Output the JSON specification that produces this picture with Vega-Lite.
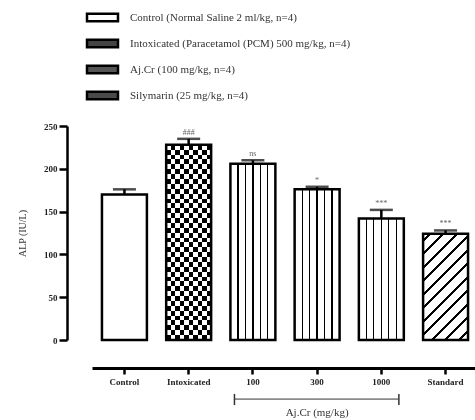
{
  "$schema": "https://vega.github.io/schema/vega-lite/v6.json",
  "autosize": "none",
  "padding": {"left": 92, "top": 126, "right": 0, "bottom": 80},
  "width": 386,
  "height": 214,
  "background": "white",
  "config": {"view": {"stroke": null}},
  "data": {"values": [
    {"group": "Control", "val": 170, "hi": 176, "sig": "", "leg": "Control (Normal Saline 2 ml/kg, n=4)"},
    {"group": "Intoxicated", "val": 228, "hi": 235, "sig": "###", "leg": "Intoxicated (Paracetamol (PCM) 500 mg/kg, n=4)"},
    {"group": "100", "val": 206, "hi": 210, "sig": "ns", "leg": "Aj.Cr (100 mg/kg, n=4)"},
    {"group": "300", "val": 176, "hi": 179, "sig": "*", "leg": "Aj.Cr (100 mg/kg, n=4)"},
    {"group": "1000", "val": 142, "hi": 152, "sig": "***", "leg": "Aj.Cr (100 mg/kg, n=4)"},
    {"group": "Standard", "val": 124, "hi": 128, "sig": "***", "leg": "Silymarin (25 mg/kg, n=4)"}
  ]},
  "encoding": {
    "x": {"field": "group", "type": "nominal",
      "scale": {"domain": ["Control", "Intoxicated", "100", "300", "1000", "Standard"], "paddingInner": 0.3, "paddingOuter": 0.155},
      "axis": {"title": null, "orient": "bottom", "offset": 28, "labelAngle": 0, "domainColor": "black", "domainWidth": 3,
        "tickColor": "black", "tickWidth": 2.5, "tickSize": 6, "labelFont": "Liberation Serif", "labelFontWeight": "bold",
        "labelFontSize": 9, "labelColor": "#222", "labelPadding": 3}},
    "y": {"field": "val", "type": "quantitative", "scale": {"domain": [0, 250], "nice": false},
      "axis": {"title": "ALP (IU/L)", "offset": 25, "values": [0, 50, 100, 150, 200, 250], "grid": false,
        "domainColor": "black", "domainWidth": 2.5, "tickColor": "black", "tickWidth": 2.5, "tickSize": 8,
        "labelFont": "Liberation Serif", "labelFontWeight": "bold", "labelFontSize": 9, "labelColor": "#222", "labelPadding": 2,
        "titleFont": "Liberation Serif", "titleFontWeight": "normal", "titleFontSize": 10, "titleColor": "#333", "titlePadding": 16}}
  },
  "layer": [
    {
      "mark": {"type": "bar"},
      "encoding": {
        "fill": {"field": "leg", "type": "nominal",
          "scale": {"domain": ["Control (Normal Saline 2 ml/kg, n=4)", "Intoxicated (Paracetamol (PCM) 500 mg/kg, n=4)", "Aj.Cr (100 mg/kg, n=4)", "Silymarin (25 mg/kg, n=4)"],
            "range": ["white", "#444444", "#555555", "#4a4a4a"]},
          "legend": {"title": null, "orient": "none", "legendX": 5, "legendY": -114, "padding": 0,
            "symbolType": "M-4,-1H4V1H-4Z", "symbolSize": 60, "symbolStrokeColor": "black", "symbolStrokeWidth": 2.5,
            "labelFont": "Liberation Serif", "labelFontSize": 11, "labelColor": "#333", "labelOffset": 22, "rowPadding": 7, "labelLimit": 400}}
      }
    },
    {
      "transform": [{"filter": "datum.group === 'Intoxicated'"}],
      "mark": {"type": "bar", "fill": {"gradient": "linear", "x1": 0, "y1": 0, "x2": 0, "y2": 1, "stops": [
        {"offset": 0, "color": "black"}, {"offset": 0.025, "color": "black"},
        {"offset": 0.025, "color": "white"}, {"offset": 0.05, "color": "white"},
        {"offset": 0.05, "color": "black"}, {"offset": 0.075, "color": "black"},
        {"offset": 0.075, "color": "white"}, {"offset": 0.1, "color": "white"},
        {"offset": 0.1, "color": "black"}, {"offset": 0.125, "color": "black"},
        {"offset": 0.125, "color": "white"}, {"offset": 0.15, "color": "white"},
        {"offset": 0.15, "color": "black"}, {"offset": 0.175, "color": "black"},
        {"offset": 0.175, "color": "white"}, {"offset": 0.2, "color": "white"},
        {"offset": 0.2, "color": "black"}, {"offset": 0.225, "color": "black"},
        {"offset": 0.225, "color": "white"}, {"offset": 0.25, "color": "white"},
        {"offset": 0.25, "color": "black"}, {"offset": 0.275, "color": "black"},
        {"offset": 0.275, "color": "white"}, {"offset": 0.3, "color": "white"},
        {"offset": 0.3, "color": "black"}, {"offset": 0.325, "color": "black"},
        {"offset": 0.325, "color": "white"}, {"offset": 0.35, "color": "white"},
        {"offset": 0.35, "color": "black"}, {"offset": 0.375, "color": "black"},
        {"offset": 0.375, "color": "white"}, {"offset": 0.4, "color": "white"},
        {"offset": 0.4, "color": "black"}, {"offset": 0.425, "color": "black"},
        {"offset": 0.425, "color": "white"}, {"offset": 0.45, "color": "white"},
        {"offset": 0.45, "color": "black"}, {"offset": 0.475, "color": "black"},
        {"offset": 0.475, "color": "white"}, {"offset": 0.5, "color": "white"},
        {"offset": 0.5, "color": "black"}, {"offset": 0.525, "color": "black"},
        {"offset": 0.525, "color": "white"}, {"offset": 0.55, "color": "white"},
        {"offset": 0.55, "color": "black"}, {"offset": 0.575, "color": "black"},
        {"offset": 0.575, "color": "white"}, {"offset": 0.6, "color": "white"},
        {"offset": 0.6, "color": "black"}, {"offset": 0.625, "color": "black"},
        {"offset": 0.625, "color": "white"}, {"offset": 0.65, "color": "white"},
        {"offset": 0.65, "color": "black"}, {"offset": 0.675, "color": "black"},
        {"offset": 0.675, "color": "white"}, {"offset": 0.7, "color": "white"},
        {"offset": 0.7, "color": "black"}, {"offset": 0.725, "color": "black"},
        {"offset": 0.725, "color": "white"}, {"offset": 0.75, "color": "white"},
        {"offset": 0.75, "color": "black"}, {"offset": 0.775, "color": "black"},
        {"offset": 0.775, "color": "white"}, {"offset": 0.8, "color": "white"},
        {"offset": 0.8, "color": "black"}, {"offset": 0.825, "color": "black"},
        {"offset": 0.825, "color": "white"}, {"offset": 0.85, "color": "white"},
        {"offset": 0.85, "color": "black"}, {"offset": 0.875, "color": "black"},
        {"offset": 0.875, "color": "white"}, {"offset": 0.9, "color": "white"},
        {"offset": 0.9, "color": "black"}, {"offset": 0.925, "color": "black"},
        {"offset": 0.925, "color": "white"}, {"offset": 0.95, "color": "white"},
        {"offset": 0.95, "color": "black"}, {"offset": 0.975, "color": "black"},
        {"offset": 0.975, "color": "white"}, {"offset": 1, "color": "white"}
      ]}}
    },
    {
      "transform": [{"filter": "datum.group === 'Intoxicated'"}],
      "mark": {"type": "bar", "blend": "difference", "fill": {"gradient": "linear", "x1": 0, "y1": 0, "x2": 1, "y2": 0, "stops": [
        {"offset": 0, "color": "white"}, {"offset": 0.1, "color": "white"},
        {"offset": 0.1, "color": "black"}, {"offset": 0.2, "color": "black"},
        {"offset": 0.2, "color": "white"}, {"offset": 0.3, "color": "white"},
        {"offset": 0.3, "color": "black"}, {"offset": 0.4, "color": "black"},
        {"offset": 0.4, "color": "white"}, {"offset": 0.5, "color": "white"},
        {"offset": 0.5, "color": "black"}, {"offset": 0.6, "color": "black"},
        {"offset": 0.6, "color": "white"}, {"offset": 0.7, "color": "white"},
        {"offset": 0.7, "color": "black"}, {"offset": 0.8, "color": "black"},
        {"offset": 0.8, "color": "white"}, {"offset": 0.9, "color": "white"},
        {"offset": 0.9, "color": "black"}, {"offset": 1, "color": "black"}
      ]}}
    },
    {
      "transform": [{"filter": "datum.group === '100' || datum.group === '300' || datum.group === '1000'"}],
      "mark": {"type": "bar", "fill": {"gradient": "linear", "x1": 0, "y1": 0, "x2": 1, "y2": 0, "stops": [
        {"offset": 0, "color": "white"}, {"offset": 0.153, "color": "white"},
        {"offset": 0.153, "color": "black"}, {"offset": 0.181, "color": "black"},
        {"offset": 0.181, "color": "white"}, {"offset": 0.319, "color": "white"},
        {"offset": 0.319, "color": "black"}, {"offset": 0.347, "color": "black"},
        {"offset": 0.347, "color": "white"}, {"offset": 0.486, "color": "white"},
        {"offset": 0.486, "color": "black"}, {"offset": 0.514, "color": "black"},
        {"offset": 0.514, "color": "white"}, {"offset": 0.653, "color": "white"},
        {"offset": 0.653, "color": "black"}, {"offset": 0.681, "color": "black"},
        {"offset": 0.681, "color": "white"}, {"offset": 0.819, "color": "white"},
        {"offset": 0.819, "color": "black"}, {"offset": 0.847, "color": "black"},
        {"offset": 0.847, "color": "white"}, {"offset": 1, "color": "white"}
      ]}}
    },
    {
      "transform": [{"filter": "datum.group === 'Standard'"}],
      "mark": {"type": "bar", "fill": {"gradient": "linear", "x1": 0, "y1": 0, "x2": 0.51, "y2": 1.2, "stops": [
        {"offset": 0, "color": "white"}, {"offset": 0.035, "color": "white"},
        {"offset": 0.035, "color": "black"}, {"offset": 0.055, "color": "black"},
        {"offset": 0.055, "color": "white"}, {"offset": 0.125, "color": "white"},
        {"offset": 0.125, "color": "black"}, {"offset": 0.145, "color": "black"},
        {"offset": 0.145, "color": "white"}, {"offset": 0.215, "color": "white"},
        {"offset": 0.215, "color": "black"}, {"offset": 0.235, "color": "black"},
        {"offset": 0.235, "color": "white"}, {"offset": 0.305, "color": "white"},
        {"offset": 0.305, "color": "black"}, {"offset": 0.325, "color": "black"},
        {"offset": 0.325, "color": "white"}, {"offset": 0.395, "color": "white"},
        {"offset": 0.395, "color": "black"}, {"offset": 0.415, "color": "black"},
        {"offset": 0.415, "color": "white"}, {"offset": 0.485, "color": "white"},
        {"offset": 0.485, "color": "black"}, {"offset": 0.505, "color": "black"},
        {"offset": 0.505, "color": "white"}, {"offset": 0.575, "color": "white"},
        {"offset": 0.575, "color": "black"}, {"offset": 0.595, "color": "black"},
        {"offset": 0.595, "color": "white"}, {"offset": 0.665, "color": "white"},
        {"offset": 0.665, "color": "black"}, {"offset": 0.685, "color": "black"},
        {"offset": 0.685, "color": "white"}, {"offset": 0.755, "color": "white"},
        {"offset": 0.755, "color": "black"}, {"offset": 0.775, "color": "black"},
        {"offset": 0.775, "color": "white"}, {"offset": 0.845, "color": "white"},
        {"offset": 0.845, "color": "black"}, {"offset": 0.865, "color": "black"},
        {"offset": 0.865, "color": "white"}, {"offset": 0.935, "color": "white"},
        {"offset": 0.935, "color": "black"}, {"offset": 0.955, "color": "black"},
        {"offset": 0.955, "color": "white"}, {"offset": 1, "color": "white"}
      ]}}
    },
    {
      "mark": {"type": "bar", "fill": "transparent", "stroke": "black", "strokeWidth": 2.5}
    },
    {
      "mark": {"type": "rule", "color": "black", "strokeWidth": 2.5},
      "encoding": {"y2": {"field": "hi"}}
    },
    {
      "mark": {"type": "tick", "color": "black", "size": 23, "thickness": 2.5, "orient": "horizontal"},
      "encoding": {"y": {"field": "hi", "type": "quantitative"}}
    },
    {
      "mark": {"type": "text", "font": "Liberation Serif", "fontSize": 8, "color": "#666", "baseline": "bottom", "dy": -2},
      "encoding": {"y": {"field": "hi", "type": "quantitative"}, "text": {"field": "sig"}}
    },
    {
      "transform": [{"filter": "datum.group === '300'"}],
      "mark": {"type": "rule", "color": "#333", "strokeWidth": 1},
      "encoding": {"x": {"datum": "100", "bandPosition": 0.09}, "x2": {"datum": "1000", "bandPosition": 0.89}, "y": {"datum": -69}}
    },
    {
      "transform": [{"filter": "datum.group === '300'"}],
      "mark": {"type": "rule", "color": "#333", "strokeWidth": 1.5},
      "encoding": {"x": {"datum": "100", "bandPosition": 0.09}, "y": {"datum": -63}, "y2": {"datum": -76}}
    },
    {
      "transform": [{"filter": "datum.group === '300'"}],
      "mark": {"type": "rule", "color": "#333", "strokeWidth": 1.5},
      "encoding": {"x": {"datum": "1000", "bandPosition": 0.89}, "y": {"datum": -63}, "y2": {"datum": -76}}
    },
    {
      "transform": [{"filter": "datum.group === '300'"}],
      "mark": {"type": "text", "font": "Liberation Serif", "fontSize": 11, "color": "#333", "baseline": "middle", "text": "Aj.Cr (mg/kg)"},
      "encoding": {"y": {"datum": -85}}
    }
  ]
}
